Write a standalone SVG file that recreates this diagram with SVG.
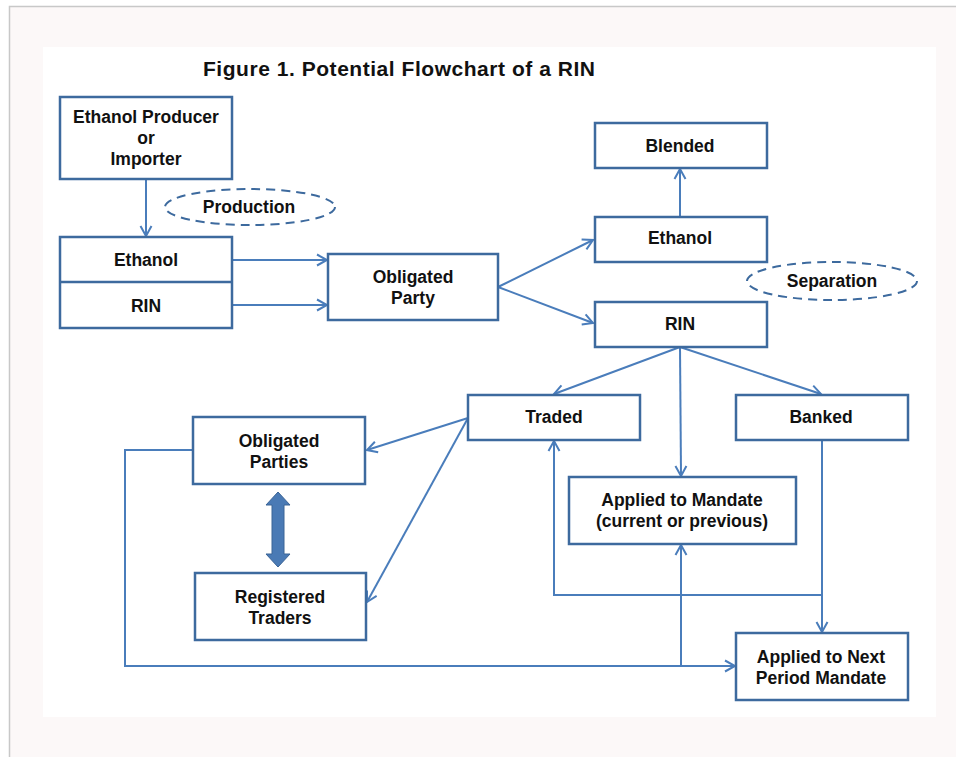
<svg xmlns="http://www.w3.org/2000/svg" width="956" height="757" viewBox="0 0 956 757">
<style>
.box{fill:#fff;stroke:#3d6a9e;stroke-width:2.5}
.ell{fill:#fff;stroke:#3d6a9e;stroke-width:2;stroke-dasharray:9 6}
.t{font-family:"Liberation Sans",Arial,sans-serif;font-weight:bold;font-size:17.5px;fill:#111;text-anchor:middle}
.title{font-family:"Liberation Sans",Arial,sans-serif;font-weight:bold;font-size:21px;fill:#111}
.c{fill:none;stroke:#4a7dbb;stroke-width:2}
</style>
<defs>
<marker id="ah" markerUnits="userSpaceOnUse" markerWidth="14" markerHeight="14" viewBox="0 0 14 14" refX="12" refY="7" orient="auto">
<path d="M2,1.5 L12,7 L2,12.5" fill="none" stroke="#4a7dbb" stroke-width="2"/>
</marker>
</defs>
<rect width="956" height="757" fill="#fff"/>
<rect x="9.5" y="6.5" width="947" height="751" fill="#fcf8f8"/>
<path d="M9.5,757 V6.5 H956" fill="none" stroke="#c8c8c8" stroke-width="1.5"/>
<rect x="43" y="47" width="893" height="670" fill="#fff"/>
<text class="title" x="203" y="76" textLength="392" lengthAdjust="spacing">Figure 1. Potential Flowchart of a RIN</text>

<g id="connectors">
<path class="c" d="M146,179 V236" marker-end="url(#ah)"/>
<path class="c" d="M232,260 H327" marker-end="url(#ah)"/>
<path class="c" d="M232,305 H327" marker-end="url(#ah)"/>
<path class="c" d="M498,287 L593,240" marker-end="url(#ah)"/>
<path class="c" d="M498,287 L593,323" marker-end="url(#ah)"/>
<path class="c" d="M680,216 V169" marker-end="url(#ah)"/>
<path class="c" d="M680,347 L554,394" marker-end="url(#ah)"/>
<path class="c" d="M680,347 L681,476" marker-end="url(#ah)"/>
<path class="c" d="M680,347 L821,394" marker-end="url(#ah)"/>
<path class="c" d="M468,418 L367,450" marker-end="url(#ah)"/>
<path class="c" d="M468,418 L367,602" marker-end="url(#ah)"/>
<path class="c" d="M193,450 H125 V666 H735" marker-end="url(#ah)"/>
<path class="c" d="M681,666 V545" marker-end="url(#ah)"/>
<path class="c" d="M822,440 V632" marker-end="url(#ah)"/>
<path class="c" d="M822,595 H554 V441" marker-end="url(#ah)"/>
<path d="M278,492 L290,505 H284 V554 H290 L278,567 L266,554 H272 V505 H266 Z" fill="#4a7ab5" stroke="#3b6496" stroke-width="1"/>
</g>

<g id="producer"><rect class="box" x="60" y="97" width="172" height="82"/>
<text class="t" x="146" y="123">Ethanol Producer</text><text class="t" x="146" y="144">or</text><text class="t" x="146" y="165">Importer</text></g>
<g id="production"><ellipse class="ell" cx="250" cy="207" rx="85" ry="18"/><text class="t" x="249" y="213">Production</text></g>
<g id="ethanol-rin"><rect class="box" x="60" y="237" width="172" height="91"/><line x1="60" y1="282" x2="232" y2="282" stroke="#3d6a9e" stroke-width="2.5"/>
<text class="t" x="146" y="266">Ethanol</text><text class="t" x="146" y="312">RIN</text></g>
<g id="obligated-party"><rect class="box" x="328" y="254" width="170" height="66"/>
<text class="t" x="413" y="283">Obligated</text><text class="t" x="413" y="304">Party</text></g>
<g id="blended"><rect class="box" x="595" y="123" width="172" height="45"/><text class="t" x="680" y="152">Blended</text></g>
<g id="ethanol2"><rect class="box" x="595" y="217" width="172" height="45"/><text class="t" x="680" y="244">Ethanol</text></g>
<g id="separation"><ellipse class="ell" cx="832" cy="281" rx="85" ry="19"/><text class="t" x="832" y="287">Separation</text></g>
<g id="rin2"><rect class="box" x="595" y="302" width="172" height="45"/><text class="t" x="680" y="330">RIN</text></g>
<g id="traded"><rect class="box" x="468" y="395" width="172" height="45"/><text class="t" x="554" y="423">Traded</text></g>
<g id="banked"><rect class="box" x="736" y="395" width="172" height="45"/><text class="t" x="821" y="423">Banked</text></g>
<g id="applied"><rect class="box" x="569" y="477" width="227" height="67"/>
<text class="t" x="682" y="506">Applied to Mandate</text><text class="t" x="682" y="527">(current or previous)</text></g>
<g id="next"><rect class="box" x="736" y="633" width="172" height="67"/>
<text class="t" x="821" y="663">Applied to Next</text><text class="t" x="821" y="684">Period Mandate</text></g>
<g id="obligated-parties"><rect class="box" x="193" y="417" width="172" height="67"/>
<text class="t" x="279" y="447">Obligated</text><text class="t" x="279" y="468">Parties</text></g>
<g id="registered"><rect class="box" x="195" y="573" width="171" height="67"/>
<text class="t" x="280" y="603">Registered</text><text class="t" x="280" y="624">Traders</text></g>
</svg>
